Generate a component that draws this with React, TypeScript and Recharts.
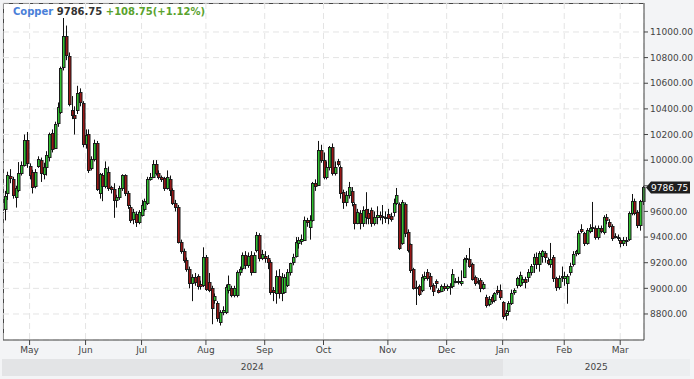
import React from 'react';
import { BarChart, Bar, XAxis, YAxis, CartesianGrid, ReferenceLine } from 'recharts';

// daily candles
const OPEN = [
  9620, 9744, 9880, 9853, 9713, 9768, 9900, 9963, 10158, 9955,
  9908, 9800, 9955, 10000, 9892, 9947, 10025, 10212, 10095, 10290,
  10376, 10727, 10969, 10813, 10390, 10350, 10390, 10532, 10446, 10126,
  10204, 9940, 10010, 10134, 9744, 9885, 9800, 9908, 9790, 9775,
  9690, 9713, 9783, 9885, 9744, 9635, 9541, 9580, 9518, 9573,
  9620, 9666, 9853, 9869, 9970, 9900, 9869, 9860, 9783, 9853,
  9768, 9666, 9635, 9362, 9292, 9222, 9151, 9042, 9089, 9097,
  9030, 9027, 9245, 9050, 9003, 8910, 8886, 8738, 8816, 8816,
  8990, 9000, 8950, 8949, 9128, 9159, 9261, 9180, 9261, 9130,
  9300, 9417, 9237, 9250, 9237, 9206, 8990, 8964, 9097, 8964,
  8972, 9027, 9128, 9206, 9253, 9350, 9370, 9378, 9530, 9480,
  9534, 9822, 9807, 10080, 10002, 9870, 9947, 10103, 9900, 9990,
  9947, 9752, 9674, 9729, 9760, 9658, 9510, 9590, 9510, 9620,
  9590, 9612, 9510, 9560, 9570, 9565, 9560, 9580, 9565, 9596,
  9666, 9658, 9354, 9658, 9440, 9346, 9151, 9010, 9019, 8990,
  9080, 9128, 9100, 9027, 9060, 8985, 8980, 9019, 9000, 9020,
  9019, 9060, 9060, 9040, 9090, 9235, 9229, 9190, 9089, 9060,
  9066, 9003, 8933, 8880, 8930, 8910, 8990, 8988, 8894, 8790,
  8820, 8886, 8970, 9027, 9027, 9050, 9070, 9089, 9128, 9190,
  9245, 9190, 9250, 9276, 9220, 9190, 9245, 9081, 9011, 9100,
  9081, 9042, 9128, 9190, 9276, 9276, 9460, 9432, 9354, 9450,
  9480, 9470, 9400, 9470, 9440, 9557, 9520, 9487, 9410, 9400,
  9380, 9350, 9380, 9385, 9588, 9682, 9596, 9495, 9678,
];
const HIGH = [
  9760, 9910, 9930, 9870, 9800, 9985, 9990, 10200, 10220, 9975,
  9925, 9930, 10030, 10020, 9980, 10070, 10215, 10240, 10300, 10450,
  10730, 11109, 11050, 10840, 10500, 10420, 10580, 10560, 10460, 10240,
  10240, 10030, 10160, 10150, 9900, 9900, 9990, 9950, 9800, 9820,
  9730, 9800, 9890, 9890, 9760, 9650, 9620, 9600, 9610, 9690,
  9700, 9870, 9900, 10000, 10000, 9920, 9880, 9870, 9920, 9880,
  9780, 9690, 9650, 9380, 9310, 9240, 9170, 9110, 9120, 9110,
  9060, 9320, 9260, 9120, 9020, 8960, 8900, 8830, 8860, 9030,
  9100, 9020, 9020, 9140, 9170, 9280, 9290, 9280, 9290, 9280,
  9440, 9430, 9300, 9290, 9260, 9220, 9010, 9140, 9150, 9120,
  9110, 9150, 9200, 9270, 9400, 9400, 9420, 9560, 9550, 9570,
  9830, 9850, 10150, 10120, 10060, 9990, 10110, 10130, 9990, 10010,
  9960, 9770, 9760, 9830, 9790, 9670, 9620, 9610, 9640, 9750,
  9620, 9630, 9600, 9640, 9600, 9650, 9600, 9620, 9590, 9700,
  9783, 9670, 9690, 9670, 9460, 9350, 9160, 9060, 9030, 9110,
  9130, 9150, 9120, 9040, 9070, 9000, 9030, 9040, 9030, 9040,
  9150, 9080, 9090, 9140, 9240, 9260, 9315, 9200, 9100, 9080,
  9080, 9050, 8950, 8940, 8950, 8970, 9020, 9030, 8900, 8830,
  8900, 8990, 9000, 9090, 9130, 9090, 9090, 9150, 9190, 9270,
  9280, 9290, 9300, 9290, 9240, 9354, 9260, 9090, 9100, 9170,
  9130, 9110, 9200, 9290, 9300, 9450, 9500, 9440, 9470, 9500,
  9674, 9490, 9490, 9490, 9570, 9580, 9540, 9500, 9430, 9420,
  9390, 9400, 9400, 9600, 9736, 9700, 9610, 9690, 9800,
];
const LOW = [
  9530, 9690, 9820, 9700, 9630, 9750, 9880, 9950, 9940, 9850,
  9740, 9780, 9940, 9830, 9850, 9880, 9990, 10060, 10090, 10260,
  10360, 10700, 10780, 10420, 10320, 10200, 10360, 10420, 10100, 10090,
  9900, 9920, 9990, 9760, 9700, 9680, 9780, 9760, 9740, 9550,
  9630, 9690, 9760, 9720, 9620, 9510, 9500, 9479, 9500, 9560,
  9600, 9650, 9840, 9860, 9880, 9850, 9830, 9760, 9770, 9720,
  9650, 9600, 9350, 9270, 9200, 9130, 9000, 8900, 9020, 8990,
  8990, 9010, 8980, 8970, 8720, 8880, 8740, 8710, 8790, 8800,
  8960, 8930, 8930, 8930, 9100, 9140, 9150, 9160, 9100, 9120,
  9280, 9210, 9220, 9200, 9150, 8950, 8900, 8880, 8920, 8900,
  8960, 9010, 9100, 9180, 9240, 9310, 9340, 9370, 9480, 9380,
  9520, 9760, 9800, 9980, 9850, 9850, 9920, 9880, 9880, 9950,
  9700, 9620, 9640, 9700, 9640, 9460, 9500, 9460, 9480, 9500,
  9500, 9480, 9490, 9500, 9530, 9500, 9510, 9500, 9520, 9560,
  9650, 9300, 9340, 9400, 9280, 9120, 8990, 8870, 8940, 8970,
  9060, 9060, 8990, 8940, 9000, 8960, 8970, 8980, 8980, 8950,
  9000, 9040, 9030, 9020, 9080, 9200, 9160, 9060, 9020, 9030,
  8970, 8990, 8850, 8860, 8880, 8890, 8950, 8910, 8760, 8750,
  8790, 8870, 8950, 9000, 9010, 9030, 9000, 9050, 9100, 9120,
  9150, 9130, 9200, 9200, 9180, 9160, 9050, 8980, 8990, 9050,
  9020, 8880, 9100, 9170, 9250, 9260, 9430, 9330, 9340, 9430,
  9440, 9380, 9380, 9430, 9420, 9500, 9470, 9370, 9390, 9370,
  9320, 9330, 9330, 9370, 9570, 9570, 9470, 9450, 9650,
];
const CLOSE = [
  9720, 9885, 9860, 9729, 9783, 9900, 9963, 10158, 9980, 9885,
  9790, 9908, 10010, 9900, 9947, 10040, 10204, 10087, 10282, 10415,
  10719, 10969, 10820, 10438, 10350, 10330, 10524, 10454, 10126, 10200,
  9924, 10010, 10134, 9775, 9892, 9800, 9940, 9783, 9775, 9690,
  9713, 9783, 9885, 9744, 9650, 9534, 9596, 9518, 9596, 9650,
  9680, 9853, 9869, 9970, 9900, 9870, 9853, 9783, 9869, 9768,
  9666, 9635, 9362, 9292, 9222, 9151, 9042, 9089, 9050, 9019,
  9019, 9245, 8995, 8990, 8847, 8940, 8769, 8816, 8830, 9011,
  9030, 8950, 9000, 9128, 9150, 9261, 9180, 9255, 9128, 9260,
  9417, 9237, 9270, 9240, 9206, 8972, 8972, 9097, 8964, 9090,
  9089, 9128, 9198, 9245, 9362, 9378, 9385, 9534, 9520, 9534,
  9822, 9800, 10080, 10000, 9870, 9947, 10103, 9900, 9950, 9970,
  9744, 9674, 9729, 9791, 9674, 9510, 9596, 9510, 9612, 9560,
  9550, 9510, 9560, 9570, 9560, 9555, 9555, 9545, 9541, 9666,
  9729, 9315, 9674, 9432, 9300, 9144, 9003, 9003, 8956, 9089,
  9100, 9081, 9019, 8980, 9040, 8975, 9019, 9000, 9019, 9010,
  9112, 9050, 9050, 9060, 9229, 9225, 9175, 9073, 9042, 9050,
  9003, 9030, 8871, 8920, 8900, 8960, 8970, 8933, 8785, 8810,
  8886, 8964, 8990, 9081, 9105, 9070, 9050, 9128, 9175, 9245,
  9190, 9276, 9290, 9245, 9200, 9230, 9081, 9011, 9081, 9090,
  9100, 9097, 9175, 9269, 9290, 9432, 9450, 9354, 9456, 9470,
  9475, 9400, 9470, 9450, 9557, 9530, 9490, 9393, 9405, 9395,
  9350, 9380, 9370, 9588, 9682, 9588, 9495, 9678, 9786.75,
];

const MONTH_IDX = [9, 29, 49, 72, 93, 114, 137, 158, 178, 200, 220];
const MONTH_LABELS = ['May', 'Jun', 'Jul', 'Aug', 'Sep', 'Oct', 'Nov', 'Dec', 'Jan', 'Feb', 'Mar'];
const Y_TICKS = [8800, 9000, 9200, 9400, 9600, 9800, 10000, 10200, 10400, 10600, 10800, 11000];
const YEAR_LABELS = ['2024', '2025'];
const YEAR_START_IDX = [0, 178];

const GREEN = '#2fbf2f';
const RED = '#991616';
const FONT = '"DejaVu Sans", sans-serif';

const W = 694;
const H = 360;
const LEFT = 3;
const TOP = 3;
const AXIS_W = 50;
const AXIS_H = 20;
const PLOT_W = W - LEFT - AXIS_W;
const PLOT_H = H - TOP - AXIS_H;

const data = CLOSE.map((c, i) => ({
  i,
  open: OPEN[i],
  high: HIGH[i],
  low: LOW[i],
  close: c,
}));

const last = CLOSE[CLOSE.length - 1];
const prev = CLOSE[CLOSE.length - 2];
const chg = last - prev;

const Candle = (props: any) => {
  const { x, y, width, height, payload } = props;
  const { open, high, low, close } = payload;
  const top = Math.min(y, y + height);
  const h = Math.abs(height);
  const k = high > low ? h / (high - low) : 0;
  const py = (v: number) => top + (high - v) * k;
  const cx = Math.round(x + width / 2);
  const up = close >= open;
  const bTop = Math.round(py(Math.max(open, close)));
  const bBot = Math.round(py(Math.min(open, close)));
  return (
    <g>
      <line x1={cx + 0.5} x2={cx + 0.5} y1={top} y2={top + h} stroke="#111" strokeWidth={1} />
      <rect
        x={cx - 0.5}
        y={bTop + 0.5}
        width={2.5}
        height={Math.max(bBot - bTop, 1)}
        fill={up ? GREEN : RED}
        stroke="#1a1a1a"
        strokeWidth={1}
      />
    </g>
  );
};

const PriceTag = (props: any) => {
  const vb = props.viewBox || {};
  const x0 = vb.x + vb.width + 2;
  const cy = vb.y;
  return (
    <g>
      <path
        d={`M${x0},${cy} L${x0 + 5},${cy - 6} L${x0 + 44},${cy - 6} L${x0 + 44},${cy + 6} L${x0 + 5},${cy + 6} Z`}
        fill="#1e1e1e"
      />
      <text x={x0 + 5} y={cy + 3.5} fill="#fff" fontSize={9} fontFamily={FONT}>
        {last.toFixed(2)}
      </text>
    </g>
  );
};

// the last-price tag covers the axis label next to it
const yLabel = (v: number) => (Math.abs(v - last) < 60 ? '' : v.toFixed(2));

export default function App() {
  const band = PLOT_W / data.length;
  const yearX = YEAR_START_IDX.map((idx, k) => (k === 0 ? 2 : LEFT + (idx + 0.5) * band));
  return (
    <div
      style={{
        position: 'absolute',
        left: 0,
        top: 0,
        width: W,
        height: 379,
        background: '#f3f4f6',
        fontFamily: FONT,
        overflow: 'hidden',
      }}
    >
      <div
        style={{
          position: 'absolute',
          left: LEFT,
          top: TOP,
          width: PLOT_W - 1,
          height: PLOT_H - 1,
          background: '#fff',
          borderLeft: '1px solid #444',
          borderTop: '1px solid #444',
        }}
      />
      <div style={{ position: 'absolute', left: 0, top: 0 }}>
        <BarChart
          width={W}
          height={H}
          data={data}
          margin={{ top: TOP, right: 0, bottom: 0, left: LEFT }}
          barCategoryGap={0}
          barGap={0}
        >
          <CartesianGrid stroke="#e4e4e4" strokeDasharray="6 4" />
          <XAxis
            dataKey="i"
            ticks={MONTH_IDX}
            interval={0}
            height={AXIS_H}
            tickSize={5}
            tickMargin={2}
            tickFormatter={(v: number) => MONTH_LABELS[MONTH_IDX.indexOf(v)] || ''}
            tick={{ fontSize: 9, fill: '#444', fontFamily: FONT }}
            axisLine={{ stroke: '#444' }}
            tickLine={{ stroke: '#444' }}
          />
          <YAxis
            orientation="right"
            type="number"
            domain={[8597, 11226]}
            allowDataOverflow
            ticks={Y_TICKS}
            width={AXIS_W}
            tickSize={4}
            tickMargin={2}
            tickFormatter={yLabel}
            tick={{ fontSize: 9, fill: '#444', fontFamily: FONT, textAnchor: 'start' }}
            axisLine={{ stroke: '#444' }}
            tickLine={{ stroke: '#444' }}
          />
          <Bar
            dataKey={(d: any) => [d.low, d.high]}
            shape={(p: any) => <Candle {...p} />}
            isAnimationActive={false}
          />
          <ReferenceLine y={last} stroke="none" label={(p: any) => <PriceTag {...p} />} />
        </BarChart>
      </div>
      <div
        style={{
          position: 'absolute',
          left: 13,
          top: 6,
          fontSize: 10,
          fontWeight: 'bold',
          whiteSpace: 'nowrap',
        }}
      >
        <span style={{ color: '#4a7fd8' }}>Copper</span>{' '}
        <span style={{ color: '#333' }}>{last.toFixed(2)}</span>{' '}
        <span style={{ color: '#5aa22e' }}>
          {(chg >= 0 ? '+' : '') + chg.toFixed(2)}({(chg >= 0 ? '+' : '') + ((chg / prev) * 100).toFixed(2)}%)
        </span>
      </div>
      {YEAR_LABELS.map((y, k) => {
        const x1 = yearX[k];
        const x2 = k + 1 < yearX.length ? yearX[k + 1] : 690;
        return (
          <div
            key={y}
            style={{
              position: 'absolute',
              left: x1,
              top: 359,
              width: x2 - x1,
              height: 17,
              lineHeight: '17px',
              background: k === 0 ? '#e3e4e6' : '#eceef0',
              color: '#444',
              fontSize: 9,
              textAlign: 'center',
            }}
          >
            {y}
          </div>
        );
      })}
    </div>
  );
}
